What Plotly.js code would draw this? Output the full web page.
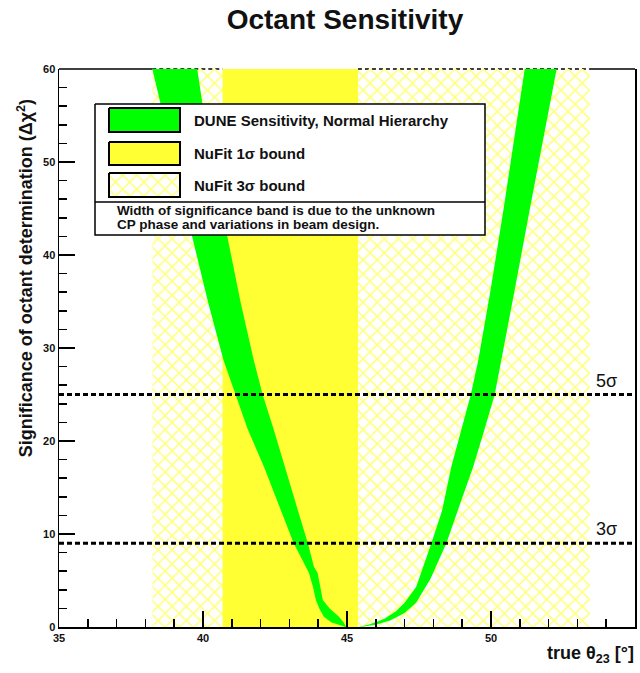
<!DOCTYPE html>
<html><head><meta charset="utf-8">
<script src="https://cdn.plot.ly/plotly-3.0.1.min.js"></script>
<style>html,body{margin:0;padding:0;background:#fff}#chart{width:640px;height:673px}</style>
</head><body><div id="chart"></div>
<script>
// ---------- data ----------
const chartTitle = 'Octant Sensitivity';
const xLabel = 'true θ<sub>23</sub> [°]';
const yLabel = 'Significance of octant determination (Δχ<sup>2</sup>)';
const xRange = [35, 55];
const yRange = [0, 60];
const xTickStep = 5, xMinorStep = 1, yTickStep = 10, yMinorStep = 2;
const nufit1Sigma = [40.68, 45.38];
const nufit3Sigma = [38.24, 53.43];
const sigmaLevels = [25, 9];
const sigmaLabels = ['5σ', '3σ'];
// DUNE band, lower octant branch: outer (upper) edge and inner (lower) edge, top to bottom
const leftOuterX = [38.24, 38.52, 39.08, 39.63, 40.17, 40.71, 41.13, 41.55, 42.12, 42.67, 43.15, 43.45, 43.68, 43.82, 43.92, 44.05, 44.2, 44.45, 44.75, 44.95];
const leftOuterY = [60, 56.3, 49, 41.9, 35, 28.7, 25, 21.3, 17.2, 12.8, 9, 7.2, 5.8, 4.3, 2.9, 1.9, 1.1, 0.5, 0.15, 0];
const leftInnerX = [39.8, 39.98, 40.42, 40.85, 41.3, 41.76, 42.07, 42.45, 42.85, 43.25, 43.64, 43.85, 43.98, 44.08, 44.16, 44.4, 44.72, 44.88, 44.97];
const leftInnerY = [60, 56.3, 49, 41.9, 35, 28.7, 25, 21.3, 17.2, 13, 9, 6.5, 5.8, 4.3, 2.9, 2.0, 1.1, 0.5, 0];
// DUNE band, upper octant branch: upper edge and lower edge, bottom to top
const rightUpperX = [45.4, 45.8, 46.3, 46.7, 47.0, 47.4, 47.93, 48.3, 48.62, 49.0, 49.3, 49.56, 50.0, 50.43, 50.8, 51.17];
const rightUpperY = [0, 0.3, 0.9, 1.7, 2.6, 4.3, 9, 12.5, 17.2, 21.5, 25, 28.7, 36.5, 44.8, 52.3, 60];
const rightLowerX = [45.45, 46.0, 46.5, 47.0, 47.4, 47.9, 48.45, 48.9, 49.38, 49.75, 50.13, 50.37, 50.85, 51.34, 51.8, 52.28];
const rightLowerY = [0, 0.25, 0.7, 1.5, 2.6, 5.2, 9, 13, 17.2, 21, 25, 28.7, 36.7, 44.8, 52.4, 60];
const legendLabels = ['DUNE Sensitivity, Normal Hierarchy', 'NuFit 1σ bound', 'NuFit 3σ bound'];
const noteLines = ['Width of significance band is due to the unknown', 'CP phase and variations in beam design.'];

// ---------- styles ----------
const GREEN = '#00ff00', YELLOW = '#ffff33';
const FONT = 'Liberation Sans, Arial, Helvetica, sans-serif';
const hatch = {shape: 'x', fgcolor: '#ffff80', bgcolor: 'rgba(255,255,255,0)', size: 10, solidity: 0.3};

function box(x0, x1, y0, y1) { return {x: [x0, x1, x1, x0, x0], y: [y0, y0, y1, y1, y0]}; }
const rev = a => a.slice().reverse();

const traces = [];
const b3 = box(nufit3Sigma[0], nufit3Sigma[1], yRange[0], yRange[1]);
traces.push({type: 'scatter', mode: 'lines', x: b3.x, y: b3.y, fill: 'toself', fillcolor: 'rgba(0,0,0,0)',
  fillpattern: hatch, line: {width: 0}, hoverinfo: 'skip', showlegend: false});
const b1 = box(nufit1Sigma[0], nufit1Sigma[1], yRange[0], yRange[1]);
traces.push({type: 'scatter', mode: 'lines', x: b1.x, y: b1.y, fill: 'toself', fillcolor: YELLOW,
  line: {width: 0}, hoverinfo: 'skip', showlegend: false});
traces.push({type: 'scatter', mode: 'lines', x: leftOuterX.concat(rev(leftInnerX)), y: leftOuterY.concat(rev(leftInnerY)),
  fill: 'toself', fillcolor: GREEN, line: {width: 0}, hoverinfo: 'skip', showlegend: false});
traces.push({type: 'scatter', mode: 'lines', x: rightUpperX.concat(rev(rightLowerX)), y: rightUpperY.concat(rev(rightLowerY)),
  fill: 'toself', fillcolor: GREEN, line: {width: 0}, hoverinfo: 'skip', showlegend: false});
sigmaLevels.forEach(v => traces.push({type: 'scatter', mode: 'lines', x: xRange, y: [v, v],
  line: {color: 'black', width: 3, dash: '5px,3px'}, hoverinfo: 'skip', showlegend: false}));

// legend drawn on an overlay pixel-space axis pair
const LX = 'x2', LY = 'y2';
function lbox(x0, x1, y0, y1, extra) {
  const b = box(x0, x1, y0, y1);
  return Object.assign({type: 'scatter', mode: 'lines', xaxis: LX, yaxis: LY, x: b.x, y: b.y, fill: 'toself',
    hoverinfo: 'skip', showlegend: false}, extra);
}
traces.push(lbox(95, 485, 104, 235, {fillcolor: 'white', line: {color: 'black', width: 1.5}}));
traces.push({type: 'scatter', mode: 'lines', xaxis: LX, yaxis: LY, x: [95, 485], y: [202, 202],
  line: {color: 'black', width: 1.5}, hoverinfo: 'skip', showlegend: false});
const swY = [[108, 132], [142, 165], [173, 197]];
traces.push(lbox(109, 180, swY[0][0], swY[0][1], {fillcolor: GREEN, line: {color: 'black', width: 2}}));
traces.push(lbox(109, 180, swY[1][0], swY[1][1], {fillcolor: YELLOW, line: {color: 'black', width: 2}}));
traces.push(lbox(109, 180, swY[2][0], swY[2][1], {fillcolor: 'white', fillpattern: hatch, line: {color: 'black', width: 2}}));

const annotations = [];
legendLabels.forEach((t, i) => annotations.push({xref: LX, yref: LY, x: 192, y: (swY[i][0] + swY[i][1]) / 2,
  text: t, showarrow: false, xanchor: 'left', yanchor: 'middle', font: {family: FONT, size: 15, weight: 'bold', color: '#111'}}));
noteLines.forEach((t, i) => annotations.push({xref: LX, yref: LY, x: 115, y: 210 + i * 14,
  text: t, showarrow: false, xanchor: 'left', yanchor: 'middle', font: {family: FONT, size: 13.5, weight: 'bold', color: '#111'}}));
sigmaLevels.forEach((v, i) => annotations.push({xref: 'paper', yref: 'y', x: 0.951, y: v, yshift: 14,
  text: sigmaLabels[i], showarrow: false, xanchor: 'center', yanchor: 'middle', font: {family: FONT, size: 18, color: '#111'}}));
annotations.push({xref: 'paper', yref: 'paper', x: 1.002, y: -0.05, text: xLabel, showarrow: false,
  xanchor: 'right', yanchor: 'middle', font: {family: FONT, size: 18, weight: 'bold', color: '#111'}});
annotations.push({xref: 'paper', yref: 'paper', x: -0.059, y: 0.625, text: yLabel, showarrow: false, textangle: -90,
  xanchor: 'center', yanchor: 'middle', font: {family: FONT, size: 18, weight: 'bold', color: '#111'}});

// top frame: solid outside 3σ box, dashed box outline, hidden under 1σ box
const px = v => (v - xRange[0]) / (xRange[1] - xRange[0]);
const shapes = [
  {type: 'line', xref: 'paper', yref: 'paper', x0: 0, x1: px(nufit3Sigma[0]), y0: 1, y1: 1, line: {color: 'black', width: 1.5}, layer: 'below'},
  {type: 'line', xref: 'paper', yref: 'paper', x0: px(nufit3Sigma[0]), x1: px(nufit1Sigma[0]), y0: 1, y1: 1, line: {color: 'black', width: 1.5, dash: '4px,3px'}, layer: 'below'},
  {type: 'line', xref: 'paper', yref: 'paper', x0: px(nufit1Sigma[1]), x1: px(nufit3Sigma[1]), y0: 1, y1: 1, line: {color: 'black', width: 1.5, dash: '4px,3px'}, layer: 'below'},
  {type: 'line', xref: 'paper', yref: 'paper', x0: px(nufit3Sigma[1]), x1: 1, y0: 1, y1: 1, line: {color: 'black', width: 1.5}, layer: 'below'}
];

const tickFont = {family: FONT, size: 11, weight: 'bold', color: '#111'};
const layout = {
  width: 640, height: 673,
  margin: {l: 59, r: 5, t: 69, b: 46},
  paper_bgcolor: 'white', plot_bgcolor: 'rgba(0,0,0,0)',
  showlegend: false,
  title: {text: chartTitle, x: 0.539, xref: 'container', xanchor: 'center', y: 0.972, yref: 'container', yanchor: 'middle',
    font: {family: FONT, size: 28, weight: 'bold', color: '#111'}},
  xaxis: {range: xRange, showline: true, linecolor: 'black', linewidth: 1.5, mirror: false, ticks: 'inside', ticklen: 16, tickwidth: 1.5,
    tickcolor: 'black', tick0: xRange[0], dtick: xTickStep, showgrid: false, zeroline: false, tickfont: tickFont,
    minor: {ticks: 'inside', dtick: xMinorStep, tick0: xRange[0], ticklen: 8, tickwidth: 1.5, tickcolor: 'black', showgrid: false}},
  yaxis: {range: yRange, showline: true, linecolor: 'black', linewidth: 1.5, mirror: true, ticks: 'inside', ticklen: 16, tickwidth: 1.5,
    tickcolor: 'black', tick0: 0, dtick: yTickStep, showgrid: false, zeroline: false, tickfont: tickFont,
    minor: {ticks: 'inside', dtick: yMinorStep, tick0: 0, ticklen: 8, tickwidth: 1.5, tickcolor: 'black', showgrid: false}},
  xaxis2: {overlaying: 'x', anchor: 'y2', range: [59, 635], visible: false, fixedrange: true},
  yaxis2: {overlaying: 'y', anchor: 'x2', range: [627, 69], visible: false, fixedrange: true},
  annotations: annotations,
  shapes: shapes
};
Plotly.newPlot('chart', traces, layout, {staticPlot: true});
</script></body></html>
